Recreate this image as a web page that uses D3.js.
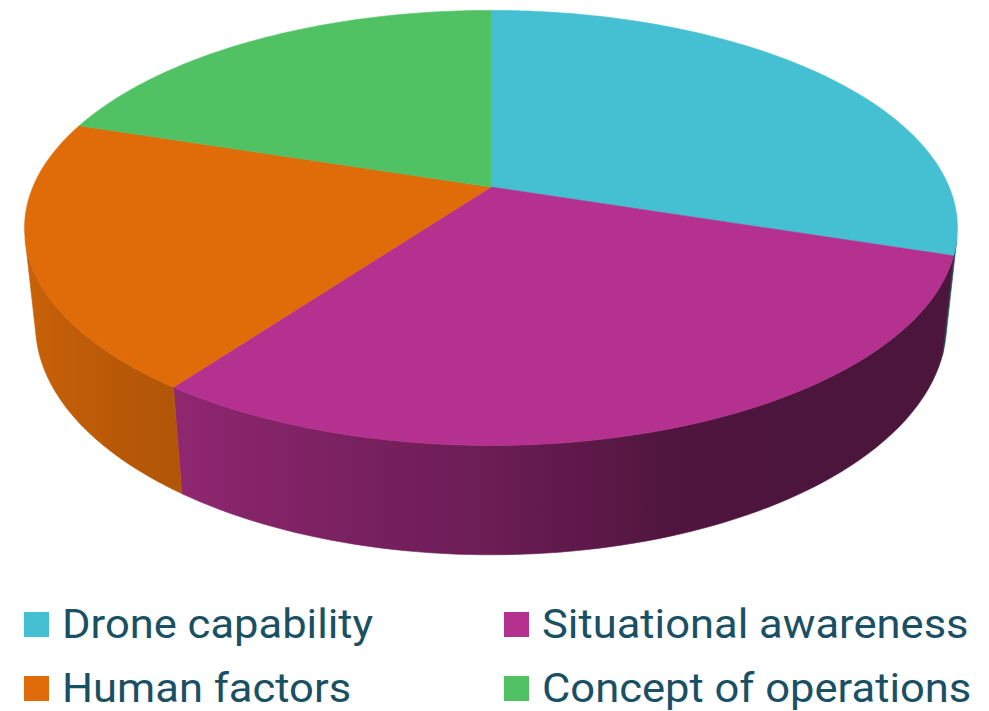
<!DOCTYPE html>
<html>
<head>
<meta charset="utf-8">
<script src="https://cdn.jsdelivr.net/npm/d3@7"></script>
<style>
  body { margin: 0; background: #fff; }
  svg { display: block; }
  .legend text { font-family: Roboto, "Noto Sans", sans-serif; fill: #1a5064; }
</style>
</head>
<body>
<script>
// data
var categories = ["Drone capability", "Situational awareness", "Human factors", "Concept of operations"];
var values = [30, 30, 20, 20];
var colors = ["#45c0d3", "#b5318f", "#e06c09", "#50c264"];

var width = 989, height = 711;

var svg = d3.select("body").append("svg")
    .attr("width", width)
    .attr("height", height);

var defs = svg.append("defs");

// perspective camera looking down on the disc (radius 1)
var cx = 491, cy = 187,
    camDist = 4.728,
    tilt = 27.26 * Math.PI / 180,
    focal = 2166,
    thick = 0.239;
var sinT = Math.sin(tilt), cosT = Math.cos(tilt);

function project(a, y) {
  var X = Math.sin(a), Z = -Math.cos(a);
  var d = camDist - y * sinT - Z * cosT;
  var v = y * cosT - Z * sinT;
  return [cx + focal * X / d, cy - focal * v / d];
}

// side is visible where the outward normal faces the camera
var visMin = Math.acos(-1 / (camDist * cosT)),
    visMax = 2 * Math.PI - visMin;

// side shading by angle (degrees)
var shade = d3.scaleLinear()
    .domain([256, 240, 215.8, 180, 162, 150])
    .range([0.9, 0.87, 0.79, 0.59, 0.45, 0.42])
    .clamp(true);

function darker(c, f) {
  var rgb = d3.rgb(c);
  return d3.rgb(rgb.r * f, rgb.g * f, rgb.b * f).formatHex();
}

var pie = d3.pie().sort(null).value(function(d) { return d; });
var arcs = pie(values);

var line = d3.line();

function arcPoints(a0, a1, y, n) {
  var pts = [];
  for (var i = 0; i <= n; i++) {
    pts.push(project(a0 + (a1 - a0) * i / n, y));
  }
  return pts;
}

// sides first
var sides = svg.append("g").attr("class", "sides");
arcs.forEach(function(d, i) {
  var lo = Math.max(d.startAngle, visMin),
      hi = Math.min(d.endAngle, visMax);
  if (lo >= hi) return;

  var n = 80;
  var top = arcPoints(lo, hi, 0, n);
  var bottom = arcPoints(hi, lo, -thick, n);
  var pts = top.concat(bottom);

  // gradient across x
  var xs = [];
  for (var k = 0; k <= 24; k++) {
    var a = lo + (hi - lo) * k / 24;
    var x = (project(a, 0)[0] + project(a, -thick)[0]) / 2;
    xs.push({x: x, deg: a * 180 / Math.PI});
  }
  var xMin = d3.min(xs, function(s) { return s.x; }),
      xMax = d3.max(xs, function(s) { return s.x; });
  xs.sort(function(p, q) { return p.x - q.x; });

  var grad = defs.append("linearGradient")
      .attr("id", "side-" + i)
      .attr("gradientUnits", "userSpaceOnUse")
      .attr("x1", xMin).attr("x2", xMax)
      .attr("y1", 0).attr("y2", 0);
  grad.selectAll("stop")
    .data(xs)
    .enter().append("stop")
      .attr("offset", function(s) { return (s.x - xMin) / (xMax - xMin); })
      .attr("stop-color", function(s) { return darker(colors[i], shade(s.deg)); });

  sides.append("path")
      .attr("d", line(pts) + "Z")
      .attr("fill", "url(#side-" + i + ")")
      .attr("stroke", "url(#side-" + i + ")")
      .attr("stroke-width", 0.6);
});

// top faces
var tops = svg.append("g").attr("class", "tops");
arcs.forEach(function(d, i) {
  var n = Math.max(20, Math.round((d.endAngle - d.startAngle) * 60));
  var pts = [[cx, cy]].concat(arcPoints(d.startAngle, d.endAngle, 0, n));
  tops.append("path")
      .attr("d", line(pts) + "Z")
      .attr("fill", colors[i])
      .attr("stroke", colors[i])
      .attr("stroke-width", 0.6)
      .attr("stroke-linejoin", "round");
});

// legend, two columns
var legendX = [24, 504], legendY = [638, 702];
var stretch = 1.075;
var legend = svg.append("g").attr("class", "legend");
var item = legend.selectAll("g")
    .data(categories)
    .enter().append("g")
    .attr("transform", function(d, i) {
      return "translate(" + legendX[i % 2] + "," + legendY[Math.floor(i / 2)] + ")";
    });

item.append("rect")
    .attr("x", 0)
    .attr("y", -26)
    .attr("width", 25)
    .attr("height", 25)
    .attr("fill", function(d, i) { return colors[i]; });

item.append("text")
    .attr("transform", "translate(38,0) scale(" + stretch + ",1)")
    .attr("font-size", 40.5)
    .text(function(d) { return d; });
</script>
</body>
</html>
